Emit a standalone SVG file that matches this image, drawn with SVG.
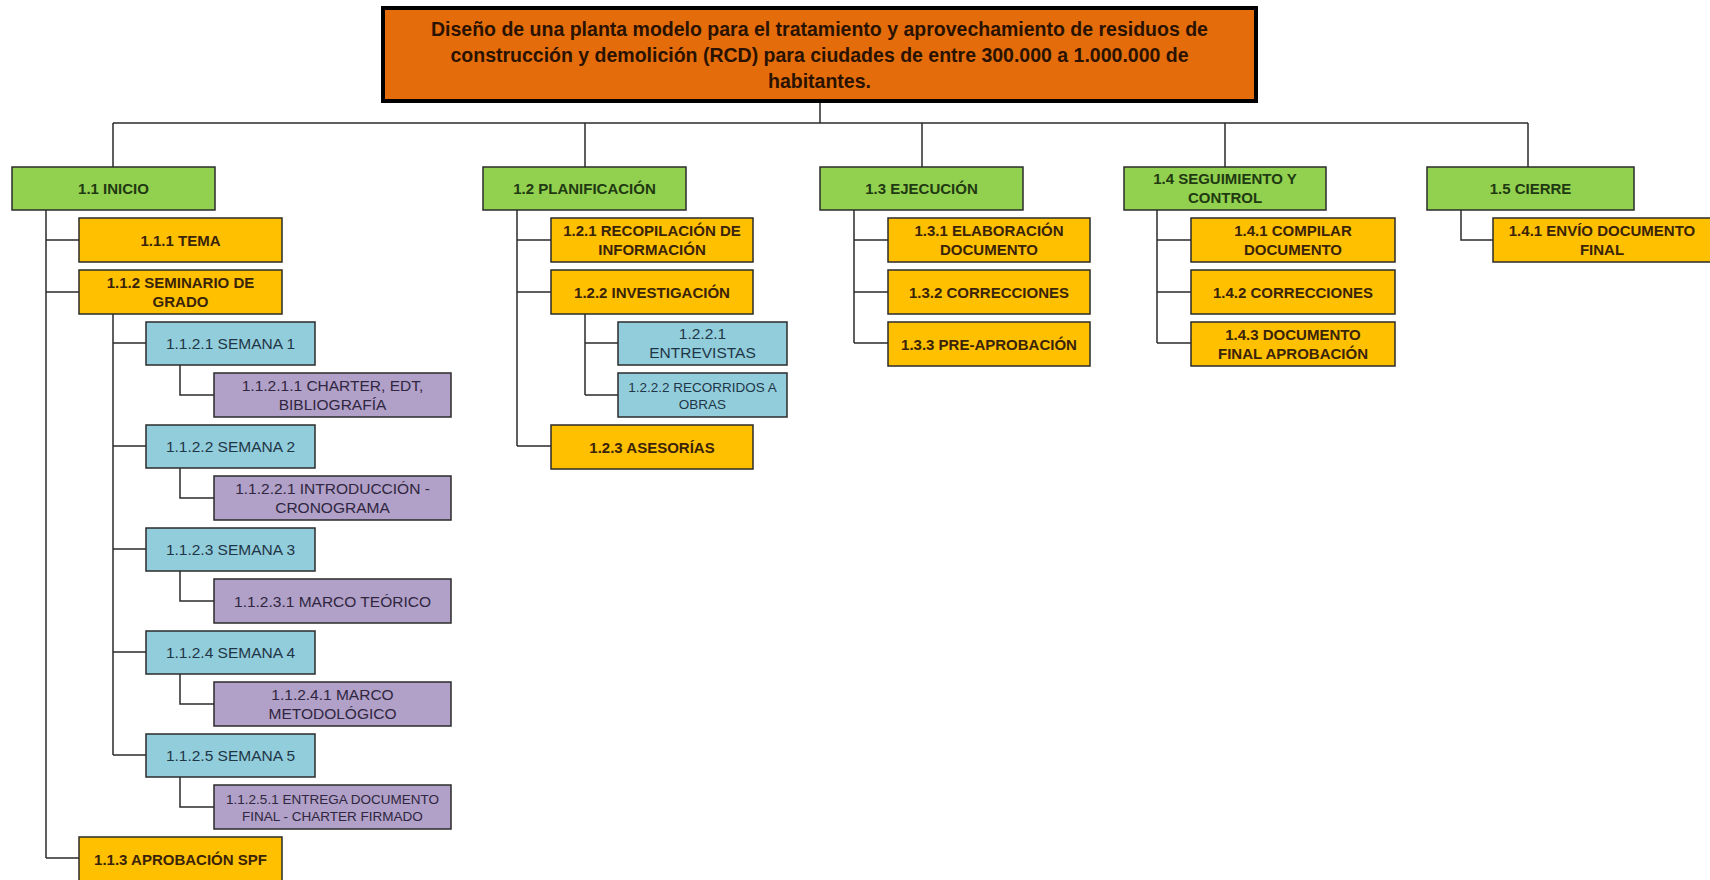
<svg xmlns="http://www.w3.org/2000/svg" width="1710" height="880" viewBox="0 0 1710 880">
<style>
.bx{stroke:#2b2b2b;stroke-width:1.5}
.g{fill:#92D050}
.o{fill:#FFC000}
.c{fill:#92CDDC}
.p{fill:#B1A0C7}
.top{fill:#E46C0A;stroke:#000;stroke-width:4}
text{font-family:"Liberation Sans",Arial,sans-serif;text-anchor:middle}
.tt{font-size:19.5px;font-weight:bold;fill:#2a1200}
.tg{font-size:15px;font-weight:bold;fill:#1f3a10}
.to{font-size:15px;font-weight:bold;fill:#3a2408}
.tc{font-size:15.5px;fill:#1f3646}
.tp{font-size:15.5px;fill:#2f2640}
.sm{font-size:13.5px}
.ln{fill:none;stroke:#2b2b2b;stroke-width:1.5}
</style>
<rect width="1710" height="880" fill="#fff"/>
<g id="connectors" class="ln">
<path d="M820 103V123M113 123H1528M113 123V167M585 123V167M922 123V167M1225 123V167M1528 123V167"/>
<path d="M46 210V858M46 240H79M46 292H79M46 858H79"/>
<path d="M113 314V755M113 343H146M113 446H146M113 549H146M113 652H146M113 755H146"/>
<path d="M180 365V395H214M180 468V498H214M180 571V601H214M180 674V704H214M180 777V807H214"/>
<path d="M517 210V446M517 240H551M517 292H551M517 446H551"/>
<path d="M585 314V395M585 343H618M585 395H618"/>
<path d="M854 210V343M854 240H888M854 292H888M854 343H888"/>
<path d="M1157 210V343M1157 240H1191M1157 292H1191M1157 343H1191"/>
<path d="M1461 210V240H1493"/>
</g>
<g id="root"><rect class="top" x="383" y="8" width="873" height="93"/>
<text class="tt" x="819.5" y="35.5">Diseño de una planta modelo para el tratamiento y aprovechamiento de residuos de</text>
<text class="tt" x="819.5" y="61.5">construcción y demolición (RCD) para ciudades de entre 300.000 a 1.000.000 de</text>
<text class="tt" x="819.5" y="87.5">habitantes.</text></g>

<g id="n1_1"><rect class="bx g" x="12" y="167" width="203" height="43"/><text class="tg" x="113.5" y="194">1.1 INICIO</text></g>
<g id="n1_2"><rect class="bx g" x="483" y="167" width="203" height="43"/><text class="tg" x="584.5" y="194">1.2 PLANIFICACIÓN</text></g>
<g id="n1_3"><rect class="bx g" x="820" y="167" width="203" height="43"/><text class="tg" x="921.5" y="194">1.3 EJECUCIÓN</text></g>
<g id="n1_4"><rect class="bx g" x="1124" y="167" width="202" height="43"/><text class="tg" x="1225" y="184">1.4 SEGUIMIENTO Y</text><text class="tg" x="1225" y="203">CONTROL</text></g>
<g id="n1_5"><rect class="bx g" x="1427" y="167" width="207" height="43"/><text class="tg" x="1530.5" y="194">1.5 CIERRE</text></g>

<g id="n1_1_1"><rect class="bx o" x="79" y="218" width="203" height="44"/><text class="to" x="180.5" y="245.5">1.1.1 TEMA</text></g>
<g id="n1_1_2"><rect class="bx o" x="79" y="270" width="203" height="44"/><text class="to" x="180.5" y="287.5">1.1.2 SEMINARIO DE</text><text class="to" x="180.5" y="306.5">GRADO</text></g>
<g id="n1_1_3"><rect class="bx o" x="79" y="837" width="203" height="45"/><text class="to" x="180.5" y="864.5">1.1.3 APROBACIÓN SPF</text></g>

<g id="n1_1_2_1"><rect class="bx c" x="146" y="322" width="169" height="43"/><text class="tc" x="230.5" y="349">1.1.2.1 SEMANA 1</text></g>
<g id="n1_1_2_1_1"><rect class="bx p" x="214" y="373" width="237" height="44"/><text class="tp" x="332.5" y="390.5">1.1.2.1.1 CHARTER, EDT,</text><text class="tp" x="332.5" y="409.5">BIBLIOGRAFÍA</text></g>
<g id="n1_1_2_2"><rect class="bx c" x="146" y="425" width="169" height="43"/><text class="tc" x="230.5" y="452">1.1.2.2 SEMANA 2</text></g>
<g id="n1_1_2_2_1"><rect class="bx p" x="214" y="476" width="237" height="44"/><text class="tp" x="332.5" y="493.5">1.1.2.2.1 INTRODUCCIÓN -</text><text class="tp" x="332.5" y="512.5">CRONOGRAMA</text></g>
<g id="n1_1_2_3"><rect class="bx c" x="146" y="528" width="169" height="43"/><text class="tc" x="230.5" y="555">1.1.2.3 SEMANA 3</text></g>
<g id="n1_1_2_3_1"><rect class="bx p" x="214" y="579" width="237" height="44"/><text class="tp" x="332.5" y="606.5">1.1.2.3.1 MARCO TEÓRICO</text></g>
<g id="n1_1_2_4"><rect class="bx c" x="146" y="631" width="169" height="43"/><text class="tc" x="230.5" y="658">1.1.2.4 SEMANA 4</text></g>
<g id="n1_1_2_4_1"><rect class="bx p" x="214" y="682" width="237" height="44"/><text class="tp" x="332.5" y="699.5">1.1.2.4.1 MARCO</text><text class="tp" x="332.5" y="718.5">METODOLÓGICO</text></g>
<g id="n1_1_2_5"><rect class="bx c" x="146" y="734" width="169" height="43"/><text class="tc" x="230.5" y="761">1.1.2.5 SEMANA 5</text></g>
<g id="n1_1_2_5_1"><rect class="bx p" x="214" y="785" width="237" height="44"/><text class="tp sm" x="332.5" y="803.5">1.1.2.5.1 ENTREGA DOCUMENTO</text><text class="tp sm" x="332.5" y="820.5">FINAL - CHARTER FIRMADO</text></g>

<g id="n1_2_1"><rect class="bx o" x="551" y="218" width="202" height="44"/><text class="to" x="652" y="235.5">1.2.1 RECOPILACIÓN DE</text><text class="to" x="652" y="254.5">INFORMACIÓN</text></g>
<g id="n1_2_2"><rect class="bx o" x="551" y="270" width="202" height="44"/><text class="to" x="652" y="297.5">1.2.2 INVESTIGACIÓN</text></g>
<g id="n1_2_2_1"><rect class="bx c" x="618" y="322" width="169" height="43"/><text class="tc" x="702.5" y="339">1.2.2.1</text><text class="tc" x="702.5" y="358">ENTREVISTAS</text></g>
<g id="n1_2_2_2"><rect class="bx c" x="618" y="373" width="169" height="44"/><text class="tc sm" x="702.5" y="391.5">1.2.2.2 RECORRIDOS A</text><text class="tc sm" x="702.5" y="408.5">OBRAS</text></g>
<g id="n1_2_3"><rect class="bx o" x="551" y="425" width="202" height="44"/><text class="to" x="652" y="452.5">1.2.3 ASESORÍAS</text></g>

<g id="n1_3_1"><rect class="bx o" x="888" y="218" width="202" height="44"/><text class="to" x="989" y="235.5">1.3.1 ELABORACIÓN</text><text class="to" x="989" y="254.5">DOCUMENTO</text></g>
<g id="n1_3_2"><rect class="bx o" x="888" y="270" width="202" height="44"/><text class="to" x="989" y="297.5">1.3.2 CORRECCIONES</text></g>
<g id="n1_3_3"><rect class="bx o" x="888" y="322" width="202" height="44"/><text class="to" x="989" y="349.5">1.3.3 PRE-APROBACIÓN</text></g>

<g id="n1_4_1"><rect class="bx o" x="1191" y="218" width="204" height="44"/><text class="to" x="1293" y="235.5">1.4.1 COMPILAR</text><text class="to" x="1293" y="254.5">DOCUMENTO</text></g>
<g id="n1_4_2"><rect class="bx o" x="1191" y="270" width="204" height="44"/><text class="to" x="1293" y="297.5">1.4.2 CORRECCIONES</text></g>
<g id="n1_4_3"><rect class="bx o" x="1191" y="322" width="204" height="44"/><text class="to" x="1293" y="339.5">1.4.3 DOCUMENTO</text><text class="to" x="1293" y="358.5">FINAL APROBACIÓN</text></g>

<g id="n1_5_1"><rect class="bx o" x="1493" y="218" width="220" height="44"/><text class="to" x="1602" y="235.5">1.4.1 ENVÍO DOCUMENTO</text><text class="to" x="1602" y="254.5">FINAL</text></g>
</svg>
